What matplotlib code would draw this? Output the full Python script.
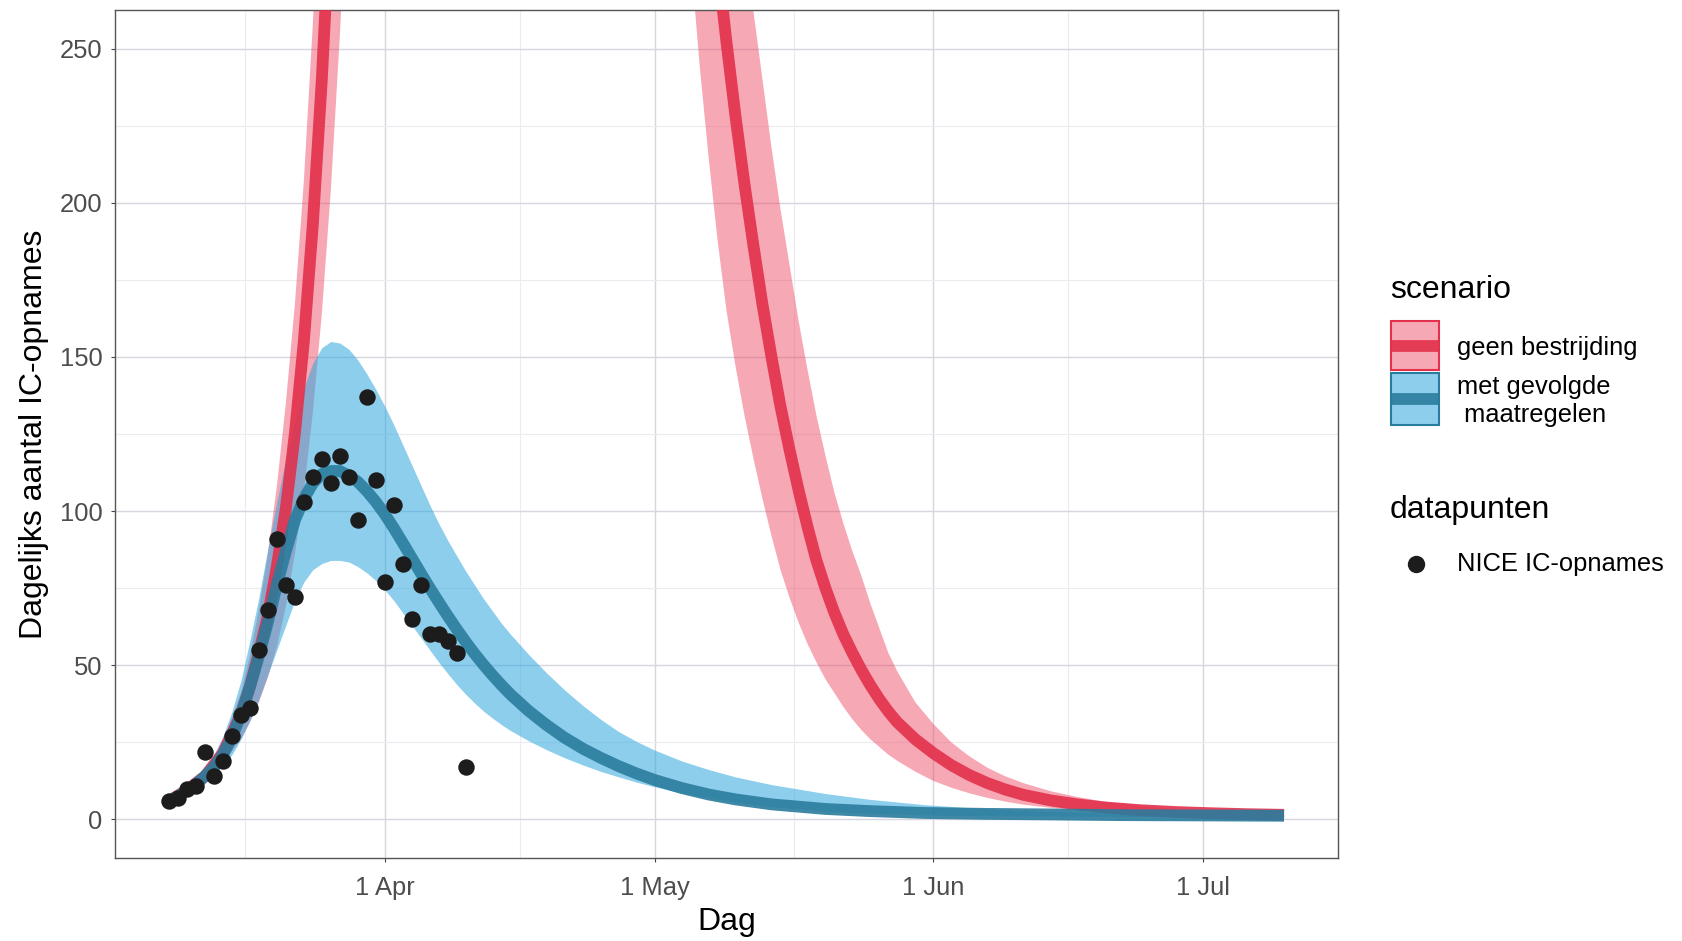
import numpy as np
import matplotlib.pyplot as plt
from matplotlib.patches import Rectangle
from matplotlib.lines import Line2D

plt.rcParams['font.family'] = ['Liberation Sans', 'DejaVu Sans']

# NICE IC-opnames per dag (8 maart t/m 10 april)
obs_start = '2020-03-08'
obs_values = [6, 7, 10, 11, 22, 14, 19, 27, 34, 36, 55, 68, 91, 76, 72, 103,
              111, 117, 109, 118, 111, 97, 137, 110, 77, 102, 83, 65, 76, 60,
              60, 58, 54, 17]

# scenario "met gevolgde maatregelen": dagelijks 8 mrt - 15 apr, daarna grover
blue_daily_start = '2020-03-08'
blue_tail_dates = ['04-17', '04-19', '04-21', '04-23', '04-25', '04-27',
                   '04-29', '05-01', '05-04', '05-07', '05-10', '05-14',
                   '05-20', '05-25', '05-31', '06-07', '06-15', '06-22',
                   '07-01', '07-10']
blue_mid = [6, 7.5, 9.5, 11.5, 14, 17, 21, 26.5, 34, 43, 53, 64, 76, 87, 97,
            104, 109, 112, 113, 113, 111.5, 109.5, 106.5, 103,
            99, 94.5, 89.7, 84.8, 79.9, 75.1, 70.5, 66, 61.7, 57.6, 53.7, 50.1,
            46.7, 43.5, 40.5,
            35.2, 30.6, 26.5, 23, 20, 17.3, 14.9, 12.8, 10.2, 8.1, 6.5, 4.9,
            3.4, 2.7, 2.1, 1.8, 1.6, 1.4, 1.3, 1.2]
blue_hi = [6.5, 8.3, 10.5, 13, 16.5, 21, 27, 35, 45, 58, 72, 88, 103, 117, 129,
           140, 148, 153, 155, 154.5, 152.5, 149, 144.5, 139.5,
           134, 128, 121.5, 115, 108.5, 102, 96, 90.5, 85.5, 80.5, 76, 71.5,
           67.5, 63.5, 60,
           53.5, 47.5, 42, 37, 32.5, 28.5, 25.3, 22.5, 19, 16.2, 13.8, 11.3,
           8.4, 6.5, 4.8, 3.4, 2.5, 1.9, 1.6, 1.4]
blue_lo = [5.5, 6.8, 8.5, 10, 12, 14.5, 17.5, 21, 26, 32, 39, 47, 55, 63, 71,
           77, 81, 83, 84, 84, 83.5, 82, 80, 77.5,
           74.5, 71, 67, 63, 59, 55, 51, 47.3, 43.8, 40.6, 37.7, 35.1, 32.8,
           30.7, 28.8,
           25.5, 22.6, 20, 17.7, 15.6, 13.8, 12.1, 10.6, 8.6, 7, 5.6, 4.2,
           2.7, 2, 1.5, 1.2, 1.1, 1.0, 1.0, 1.0]

# scenario "geen bestrijding"
red_dates = ['03-08', '03-10', '03-12', '03-14', '03-16', '03-17', '03-18',
             '03-19', '03-20', '03-21', '03-22', '03-23', '03-24', '03-25',
             '03-26', '03-27', '03-28', '03-30', '04-02', '04-08', '04-15',
             '04-22', '04-28', '05-01',
             '05-03', '05-04', '05-05', '05-06', '05-07', '05-08', '05-09',
             '05-10', '05-11', '05-12', '05-13', '05-14', '05-15', '05-16',
             '05-17', '05-18', '05-19', '05-20', '05-21', '05-22', '05-23',
             '05-24', '05-25', '05-26', '05-27', '05-28',
             '05-30', '06-01', '06-03', '06-05', '06-07', '06-09', '06-11',
             '06-14', '06-17', '06-20', '06-24', '06-28', '07-02', '07-06',
             '07-10']
red_mid = [6, 9.5, 14, 21.5, 34, 43, 54, 66, 82, 101, 125, 155, 193, 240,
           298, 370, 455, 680, 1050, 1700, 1900, 1500, 900, 650,
           480, 430, 385, 345, 310, 278, 252, 228, 206, 186, 167, 150, 134,
           120, 107, 95, 84, 75, 67, 60, 54, 48.5, 43.5, 39, 35, 31.5,
           26, 21.5, 17.6, 14.4, 11.8, 9.7, 8.0, 6.2, 4.9, 3.9, 3.0, 2.4, 2.0,
           1.7, 1.5]
red_lo = [5.7, 9, 12.5, 18, 26, 31.5, 38, 46, 56, 69, 86, 106, 132, 164,
          204, 254, 315, 470, 760, 1300, 1600, 1300, 700, 480,
          360, 320, 280, 245, 215, 188, 165, 147, 131, 117, 104, 92, 81, 72,
          64, 57, 51, 45.5, 41, 36.5, 32.5, 29, 26, 23.5, 21, 19,
          15.5, 12.5, 10.3, 8.5, 7, 5.8, 4.8, 3.8, 3.0, 2.5, 2.0, 1.7, 1.5,
          1.4, 1.4]
red_hi = [6.3, 10, 15.5, 25, 41, 53, 68, 86, 108, 135, 167, 207, 258, 320,
          400, 495, 610, 900, 1350, 2100, 2300, 1900, 1250, 900,
          600, 560, 520, 480, 440, 400, 360, 325, 290, 262, 240, 218, 198,
          180, 162, 146, 131, 118, 106, 96, 87, 79, 70, 62, 54, 48,
          38, 31, 25, 20.5, 16.8, 14, 11.8, 9.2, 7.3, 5.8, 4.4, 3.3, 2.4,
          1.9, 1.6]

month_ticks = ['2020-04-01', '2020-05-01', '2020-06-01', '2020-07-01']
month_labels = ['1 Apr', '1 May', '1 Jun', '1 Jul']
mid_month = ['2020-03-16T12', '2020-04-16', '2020-05-16T12', '2020-06-16']
y_ticks = [0, 50, 100, 150, 200, 250]
y_minor = [25, 75, 125, 175, 225]

RED = '#E3304C'
RED_FILL = '#EE3F5C'
TEAL = '#2A7C9E'
BLUE_FILL = '#2FA7DE'


def to_dates(days):
    return np.array([np.datetime64('2020-' + s) for s in days])


n_daily = len(blue_mid) - len(blue_tail_dates)
bx = np.concatenate([np.datetime64(blue_daily_start) + np.arange(n_daily),
                     to_dates(blue_tail_dates)])
rx = to_dates(red_dates)
ox = np.datetime64(obs_start) + np.arange(len(obs_values))

W, H = 1682, 941
fig = plt.figure(figsize=(W / 100, H / 100), dpi=100)
ax = fig.add_axes([115 / W, 1 - 858 / H, (1338 - 115) / W, (858 - 10) / H])

ax.fill_between(rx, red_lo, red_hi, color=RED_FILL, alpha=0.45, lw=0, zorder=2)
ax.fill_between(bx, blue_lo, blue_hi, color=BLUE_FILL, alpha=0.55, lw=0, zorder=2)
ax.plot(rx, red_mid, color=RED, lw=8.5, alpha=0.9, solid_capstyle='butt', zorder=3)
ax.plot(bx, blue_mid, color=TEAL, lw=8.5, alpha=0.9, solid_capstyle='butt', zorder=3)
ax.scatter(ox, obs_values, s=140, color='#1c1c1c', lw=0, zorder=4)

# ggplot-achtige schaal: 5% marge
span = bx[-1] - bx[0]
pad = span * 5 // 100
ax.set_xlim(bx[0] - pad, bx[-1] + pad)
ax.set_ylim(-12.5, 262.5)

ax.set_xticks(np.array(month_ticks, dtype='datetime64[D]'))
ax.set_xticklabels(month_labels)
ax.set_xticks(np.array(mid_month, dtype='datetime64[h]'), minor=True)
ax.set_yticks(y_ticks)
ax.set_yticks(y_minor, minor=True)

ax.grid(which='major', color='#D6D6DE', lw=1.0, zorder=0)
ax.grid(which='minor', color='#ECECF0', lw=0.8, zorder=0)
ax.set_axisbelow(True)
for sp in ax.spines.values():
    sp.set_color('#555555')
    sp.set_linewidth(1.0)
ax.tick_params(which='major', length=3, width=0.8, color='#444444',
               labelsize=18.4, labelcolor='#4D4D4D')
ax.tick_params(axis='x', pad=10)
ax.tick_params(axis='y', pad=6)
ax.tick_params(which='minor', length=0)

ax.set_xlabel('Dag', fontsize=23, labelpad=5)
ax.set_ylabel('Dagelijks aantal IC-opnames', fontsize=23, labelpad=8)


# legenda
def fx(px):
    return px / W


def fy(py):
    return 1 - py / H


fig.text(fx(1390), fy(290), 'scenario', fontsize=23, va='center', ha='left')
keys = [(321, 370, RED_FILL, 0.45, RED, ['geen bestrijding'], [348]),
        (373, 425, BLUE_FILL, 0.55, TEAL, ['met gevolgde', ' maatregelen'], [387, 415])]
for top, bot, fill, a, line_c, labels, ys in keys:
    fig.add_artist(Rectangle((fx(1391), fy(bot)), (1439 - 1391) / W, (bot - top) / H,
                             transform=fig.transFigure, facecolor=fill, alpha=a,
                             edgecolor='none'))
    fig.add_artist(Rectangle((fx(1391), fy(bot)), (1439 - 1391) / W, (bot - top) / H,
                             transform=fig.transFigure, facecolor='none',
                             edgecolor=line_c, lw=1.5))
    ymid = fy((top + bot) / 2)
    fig.add_artist(Line2D([fx(1392), fx(1438)], [ymid, ymid], color=line_c, lw=8.5,
                          alpha=0.9, solid_capstyle='butt', transform=fig.transFigure))
    for lab, yy in zip(labels, ys):
        fig.text(fx(1457), fy(yy), lab, fontsize=18.4, va='center', ha='left')

fig.text(fx(1390), fy(510), 'datapunten', fontsize=23, va='center', ha='left')
fig.add_artist(Line2D([fx(1416)], [fy(564)], marker='o', markersize=11.5,
                      color='#1c1c1c', transform=fig.transFigure))
fig.text(fx(1457), fy(564), 'NICE IC-opnames', fontsize=18.4, va='center', ha='left')

fig.savefig('out.png', dpi=100, facecolor='white')
